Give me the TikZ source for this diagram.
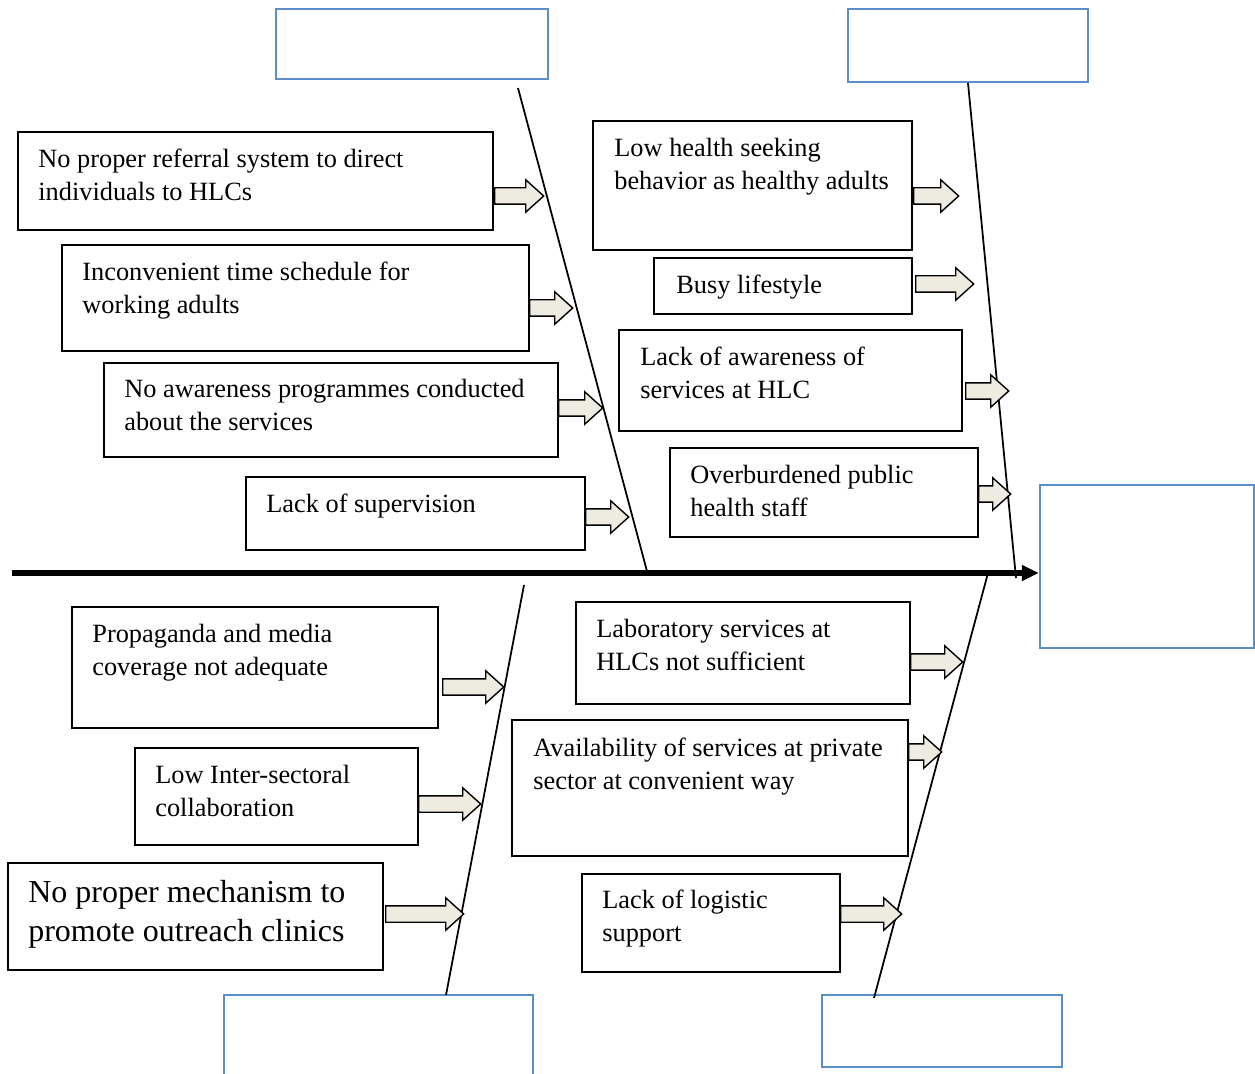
\documentclass[tikz,border=0pt]{standalone}
\usepackage{fontspec}
\setmainfont{Liberation Serif}
\usepackage{tikz}
\usetikzlibrary{arrows.meta}
\usetikzlibrary{shapes.arrows}
\usetikzlibrary{fit}

\definecolor{headblue}{RGB}{91,142,201}
\definecolor{arrowfill}{RGB}{238,236,225}

\tikzset{
	cause/.style={draw=black,line width=0.9pt,inner sep=0pt,rectangle},
	headbox/.style={draw=headblue,line width=1.2pt,inner sep=0pt,rectangle},
	ctext/.style={anchor=north west,align=left,inner sep=0pt,yshift=-0.04cm,font=\fontsize{15}{18.8}\selectfont},
	bigtext/.style={ctext,font=\fontsize{18.2}{22.2}\selectfont},
	barrow/.style={draw=black,fill=arrowfill,line width=0.8pt,single arrow,anchor=west,
		inner xsep=0pt,inner ysep=0.15cm,single arrow head extend=0.16cm,single arrow tip angle=84},
	bone/.style={draw=black,line width=1pt},
	spine/.style={draw=black,line width=3pt,-{Triangle[length=0.34cm,width=0.3cm]}}
}

\begin{document}
\begin{tikzpicture}[x=0.02cm,y=-0.02cm]
\useasboundingbox (0,0) rectangle (1255,1074);

% empty head boxes
\node[headbox,fit={(276,9) (548,79)}] (h1) {};
\node[headbox,fit={(848,9) (1088,82)}] (h2) {};
\node[headbox,fit={(224,995) (533,1080)}] (h3) {};
\node[headbox,fit={(822,995) (1062,1067)}] (h4) {};
\node[headbox,fit={(1040,485) (1254,648)}] (effect) {};

% spine and bones
\coordinate (tail) at (12,573);
\draw[spine] (tail) -- (tail -| effect.west);
\coordinate (b1s) at (518,88);
\coordinate (b1e) at (648,575);
\coordinate (b2s) at (968,83);
\coordinate (b2e) at (1016,578);
\coordinate (b3s) at (524,585);
\coordinate (b3e) at (446,995);
\coordinate (b4s) at (988,573);
\coordinate (b4e) at (874,998);
\draw[bone] (b1s) -- (b1e);
\draw[bone] (b2s) -- (b2e);
\draw[bone] (b3s) -- (b3e);
\draw[bone] (b4s) -- (b4e);

% causes
\node[cause,fit={(18,132) (493,230)}] (c1) {};
\node[ctext] (t1) at (38,147) {No proper referral system to direct\\individuals to HLCs};
\node[cause,fit={(62,245) (529,351)}] (c2) {};
\node[ctext] (t2) at (82,260) {Inconvenient time schedule for\\working adults};
\node[cause,fit={(104,363) (558,457)}] (c3) {};
\node[ctext] (t3) at (124,377) {No awareness programmes conducted\\about the services};
\node[cause,fit={(246,477) (585,550)}] (c4) {};
\node[ctext] (t4) at (266,492) {Lack of supervision};

\node[cause,fit={(593,121) (912,250)}] (c5) {};
\node[ctext] (t5) at (614,136) {Low health seeking\\behavior as healthy adults};
\node[cause,fit={(654,258) (912,314)}] (c6) {};
\node[ctext] (t6) at (676,273) {Busy lifestyle};
\node[cause,fit={(619,330) (962,431)}] (c7) {};
\node[ctext] (t7) at (640,345) {Lack of awareness of\\services at HLC};
\node[cause,fit={(670,448) (978,537)}] (c8) {};
\node[ctext] (t8) at (690,463) {Overburdened public\\health staff};

\node[cause,fit={(72,607) (438,728)}] (c9) {};
\node[ctext] (t9) at (92,622) {Propaganda and media\\coverage not adequate};
\node[cause,fit={(135,748) (418,845)}] (c10) {};
\node[ctext] (t10) at (155,763) {Low Inter-sectoral\\collaboration};
\node[cause,fit={(8,863) (383,970)}] (c11) {};
\node[bigtext] (t11) at (28,878) {No proper mechanism to\\promote outreach clinics};

\node[cause,fit={(576,602) (910,704)}] (c12) {};
\node[ctext] (t12) at (596,617) {Laboratory services at\\HLCs not sufficient};
\node[cause,fit={(512,720) (908,856)}] (c13) {};
\node[ctext] (t13) at (533,736) {Availability of services at private\\sector at convenient way};
\node[cause,fit={(582,874) (840,972)}] (c14) {};
\node[ctext] (t14) at (602,888) {Lack of logistic\\support};

% block arrows
\foreach \a/\b/\c [count=\i] in {494/543/196,529/572/308,558/602/408,585/628/517,
	913/958/196,915/973/284,965/1008/391,978/1010/494,
	442/503/687,418/480/804,385/463/914,
	910/962/662,908/941/752,840/901/914}
	\node[barrow,minimum height={(\b-\a)*0.02cm}] (ar\i) at (\a,\c) {};
\end{tikzpicture}
\end{document}
